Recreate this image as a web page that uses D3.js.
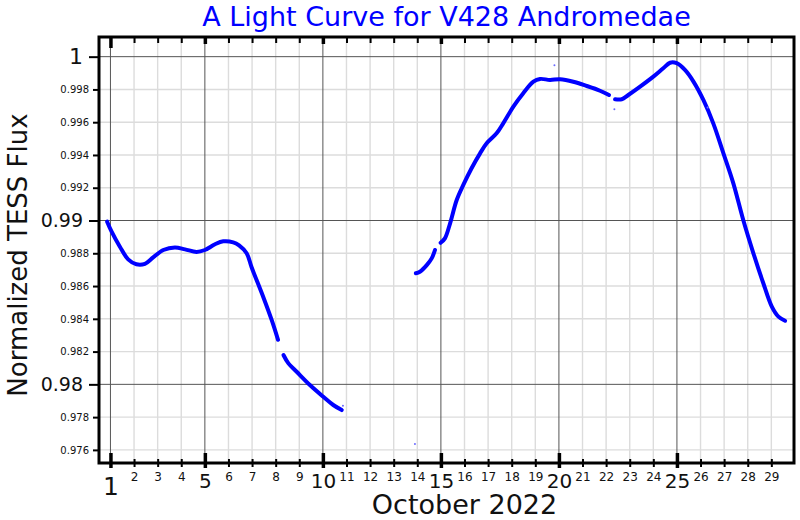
<!DOCTYPE html>
<html>
<head>
<meta charset="utf-8">
<script src="https://cdn.jsdelivr.net/npm/d3@7"></script>
<style>
  html, body { margin: 0; padding: 0; background: #fff; }
  svg { display: block; font-family: "DejaVu Sans", sans-serif; }
</style>
</head>
<body>
<svg id="chart" width="800" height="520"></svg>
<script>
// ---- Data (day of October 2022, normalized TESS flux) ----
const segment1 = [
  [0.86, 0.98993], [1.05, 0.98932], [1.40, 0.98840], [1.75, 0.98763], [2.10, 0.98733],
  [2.46, 0.98736], [2.81, 0.98775], [3.24, 0.98820], [3.73, 0.98836], [4.16, 0.98824],
  [4.65, 0.98808], [5.00, 0.98820], [5.43, 0.98855], [5.78, 0.98873], [6.20, 0.98867],
  [6.45, 0.98848], [6.77, 0.98800], [6.98, 0.98715], [7.47, 0.98535], [7.83, 0.98393],
  [8.10, 0.98272]
];
const segment2 = [
  [8.33, 0.98179], [8.54, 0.98128], [8.89, 0.98077], [9.45, 0.97996], [10.02, 0.97924],
  [10.44, 0.97874], [10.80, 0.97843]
];
const segment3 = [
  [13.94, 0.98678], [14.11, 0.98687], [14.40, 0.98728], [14.61, 0.98769], [14.75, 0.98820]
];
const segment4 = [
  [14.99, 0.98864], [15.17, 0.98891], [15.39, 0.98983], [15.67, 0.99125], [15.95, 0.99217],
  [16.30, 0.99319], [16.66, 0.99410], [16.94, 0.99471], [17.36, 0.99532], [17.64, 0.99593],
  [18.07, 0.99695], [18.49, 0.99777], [18.92, 0.99847], [19.20, 0.99864], [19.62, 0.99858],
  [20.05, 0.99862], [20.61, 0.99847], [21.18, 0.99821], [21.74, 0.99792], [22.12, 0.99766]
];
const segment5 = [
  [22.38, 0.99740], [22.66, 0.99740], [22.94, 0.99766], [23.44, 0.99817], [24.00, 0.99878],
  [24.42, 0.99929], [24.71, 0.99963], [24.99, 0.99960], [25.34, 0.99919], [25.70, 0.99848],
  [26.12, 0.99736], [26.54, 0.99593], [26.97, 0.99410], [27.39, 0.99227], [27.81, 0.99003],
  [28.24, 0.98800], [28.66, 0.98617], [29.02, 0.98474], [29.30, 0.98413], [29.58, 0.98388]
];
const outliers = [
  [13.90, 0.97636], [19.81, 0.99947], [22.35, 0.99679], [26.30, 0.99690], [10.85, 0.97870]
];
const xMajorTicks = [1, 5, 10, 15, 20, 25];
const xMinorTicks = [2, 3, 4, 6, 7, 8, 9, 11, 12, 13, 14, 16, 17, 18, 19, 21, 22, 23, 24, 26, 27, 28, 29];
const yMajorTicks = [0.98, 0.99, 1.0];
const yMinorTicks = [0.976, 0.978, 0.982, 0.984, 0.986, 0.988, 0.992, 0.994, 0.996, 0.998];
const yMajorLabels = ["0.98", "0.99", "1"];
const titleText = "A Light Curve for V428 Andromedae";
const xLabelText = "October 2022";
const yLabelText = "Normalized TESS Flux";

// ---- Layout ----
const svg = d3.select("#chart");
const L = 99, R = 794, T = 37, B = 463;
const x = d3.scaleLinear().domain([0.515, 29.96]).range([L, R]);
const y = d3.scaleLinear().domain([0.9752, 1.0012]).range([B, T]);

// Grid
const grid = svg.append("g");
grid.selectAll("line.xmin").data(xMinorTicks).join("line")
  .attr("x1", d => x(d)).attr("x2", d => x(d)).attr("y1", T).attr("y2", B)
  .attr("stroke", "#dcdcdc").attr("stroke-width", 1.4);
grid.selectAll("line.ymin").data(yMinorTicks).join("line")
  .attr("y1", d => y(d)).attr("y2", d => y(d)).attr("x1", L).attr("x2", R)
  .attr("stroke", "#dcdcdc").attr("stroke-width", 1.4);
grid.selectAll("line.xmaj").data(xMajorTicks).join("line")
  .attr("x1", d => x(d)).attr("x2", d => x(d)).attr("y1", T).attr("y2", B)
  .attr("stroke", "#555").attr("stroke-width", 1);
grid.selectAll("line.ymaj").data(yMajorTicks).join("line")
  .attr("y1", d => y(d)).attr("y2", d => y(d)).attr("x1", L).attr("x2", R)
  .attr("stroke", "#555").attr("stroke-width", 1);

// Data
const line = d3.line().x(d => x(d[0])).y(d => y(d[1])).curve(d3.curveCatmullRom.alpha(0.5));
const segs = [segment1, segment2, segment3, segment4, segment5];
svg.append("g").selectAll("path").data(segs).join("path")
  .attr("d", line).attr("fill", "none").attr("stroke", "#0000ff")
  .attr("stroke-width", 4).attr("stroke-linecap", "round").attr("stroke-linejoin", "round");
svg.append("g").selectAll("circle").data(outliers).join("circle")
  .attr("cx", d => x(d[0])).attr("cy", d => y(d[1])).attr("r", 1)
  .attr("fill", "#6a6aff");

// Axes (ticks)
function styleAxis(g) { g.select(".domain").remove(); g.selectAll("text").attr("font-family", "DejaVu Sans, sans-serif"); }

// bottom minor
const bMin = svg.append("g").attr("transform", `translate(0,${B})`)
  .call(d3.axisBottom(x).tickValues(xMinorTicks).tickSize(4).tickPadding(5).tickFormat(d3.format("d")));
styleAxis(bMin);
bMin.selectAll("line").attr("y1", -4).attr("stroke-width", 2);
bMin.selectAll("text").attr("font-size", 12).attr("fill", "#111");
// bottom major
const bMaj = svg.append("g").attr("transform", `translate(0,${B})`)
  .call(d3.axisBottom(x).tickValues(xMajorTicks).tickSize(5).tickPadding(6).tickFormat(d3.format("d")));
styleAxis(bMaj);
bMaj.selectAll("line").attr("y1", -10).attr("stroke-width", 3.5);
bMaj.selectAll("text").attr("font-size", d => d === 1 ? 25 : 20).attr("fill", "#111")
  .attr("dy", d => d === 1 ? "0.84em" : "0.7em");
// top ticks (inward)
const tMin = svg.append("g").attr("transform", `translate(0,${T})`)
  .call(d3.axisTop(x).tickValues(xMinorTicks).tickSize(-6).tickFormat(""));
styleAxis(tMin);
tMin.selectAll("line").attr("stroke-width", 2);
const tMaj = svg.append("g").attr("transform", `translate(0,${T})`)
  .call(d3.axisTop(x).tickValues(xMajorTicks).tickSize(-7).tickFormat(""));
styleAxis(tMaj);
tMaj.selectAll("line").attr("stroke-width", 3.5).attr("y2", d => d === 1 ? 11 : 7);

// left ticks
const lMin = svg.append("g").attr("transform", `translate(${L},0)`)
  .call(d3.axisLeft(y).tickValues(yMinorTicks).tickSize(6).tickPadding(4).tickFormat(d3.format(".3f")));
styleAxis(lMin);
lMin.selectAll("line").attr("stroke-width", 2);
lMin.selectAll("text").attr("font-size", 10).attr("fill", "#111");
const lMaj = svg.append("g").attr("transform", `translate(${L},0)`)
  .call(d3.axisLeft(y).tickValues(yMajorTicks).tickSize(10).tickPadding(6)
    .tickFormat((d, i) => yMajorLabels[i]));
styleAxis(lMaj);
lMaj.selectAll("line").attr("stroke-width", 2);
lMaj.selectAll("text").attr("font-size", d => d === 1 ? 22 : 19).attr("fill", "#111");

// Spines
svg.append("rect").attr("x", L).attr("y", T).attr("width", R - L).attr("height", B - T)
  .attr("fill", "none").attr("stroke", "#000").attr("stroke-width", 3);

// Titles
svg.append("text").attr("x", (L + R) / 2).attr("y", 26).attr("text-anchor", "middle")
  .attr("font-size", 27).attr("fill", "#0000ff").text(titleText);
svg.append("text").attr("x", 464.5).attr("y", 514).attr("text-anchor", "middle")
  .attr("font-size", 27).attr("fill", "#111").text(xLabelText);
svg.append("text").attr("transform", "translate(27,255) rotate(-90)").attr("text-anchor", "middle")
  .attr("font-size", 26).attr("fill", "#111").text(yLabelText);
</script>
</body>
</html>
